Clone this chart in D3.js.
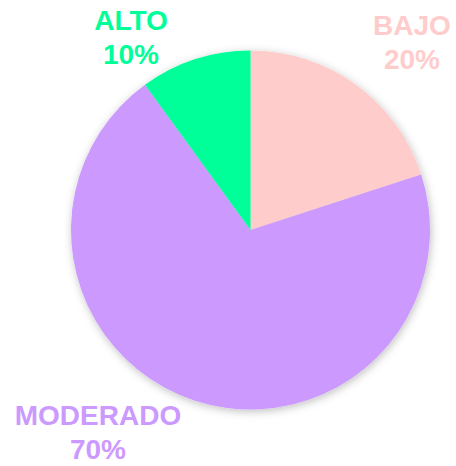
<!DOCTYPE html>
<html><head><meta charset="utf-8">
<script src="https://cdn.jsdelivr.net/npm/d3@7"></script>
<style>body{margin:0;background:#fff}svg{display:block}</style>
</head><body>
<svg id="c" width="456" height="466"></svg>
<script>
const categories = ["BAJO", "MODERADO", "ALTO"];
const values = [20, 70, 10];
const colors = ["#FFCCCC", "#CC99FF", "#00FF99"];
const labelText = ["20%", "70%", "10%"];

const svg = d3.select("#c");
const cx = 250.5, cy = 230, r = 179.5;
const defs = svg.append("defs");
const f = defs.append("filter").attr("id","sh").attr("x","-20%").attr("y","-20%").attr("width","140%").attr("height","140%");
f.append("feDropShadow").attr("dx",1).attr("dy",2).attr("stdDeviation",4).attr("flood-color","#000").attr("flood-opacity",0.25);

const data = categories.map((c,i)=>({cat:c, v:values[i], col:colors[i], pct:labelText[i]}));
const pie = d3.pie().value(d=>d.v).sort(null);
const arc = d3.arc().innerRadius(0).outerRadius(r);
const g = svg.append("g").attr("transform",`translate(${cx},${cy})`);
g.append("g").attr("filter","url(#sh)").selectAll("path").data(pie(data)).join("path")
  .attr("d",arc).attr("fill",d=>d.data.col);

// label positions (outside the pie)
const labelPos = {"BAJO":[412,34.5],"MODERADO":[98,425],"ALTO":[131,29.5]};
data.forEach(d=>{
  const [x,y] = labelPos[d.cat];
  const t = svg.append("text").attr("x",x).attr("y",y).attr("text-anchor","middle")
    .attr("font-family","Liberation Sans, Arial, sans-serif").attr("font-weight","bold")
    .attr("font-size",28).attr("fill",d.col);
  t.append("tspan").attr("x",x).text(d.cat);
  t.append("tspan").attr("x",x).attr("dy",34).text(d.pct);
});
</script>
</body></html>
